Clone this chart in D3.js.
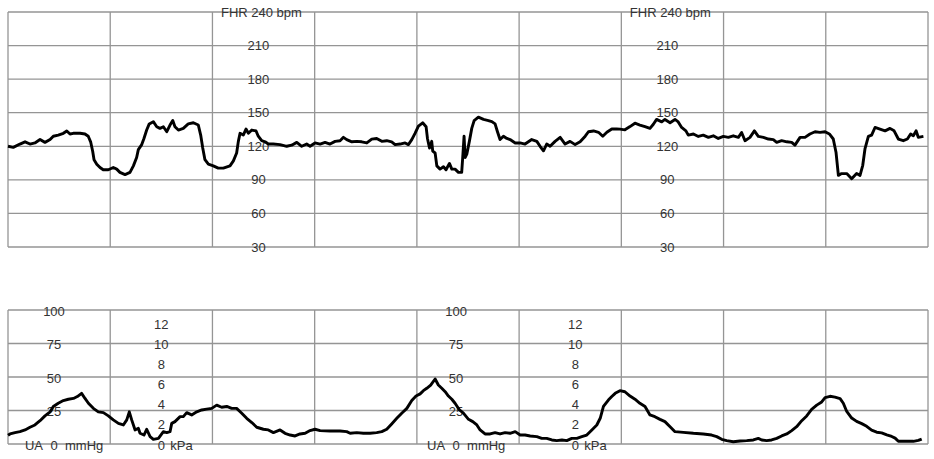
<!DOCTYPE html>
<html>
<head>
<meta charset="utf-8">
<script src="https://cdn.jsdelivr.net/npm/d3@7"></script>
<style>
  html, body { margin: 0; padding: 0; background: #fff; }
  svg { display: block; }
  text { font-family: "Liberation Sans", Arial, sans-serif; font-size: 13px; fill: #333; }
</style>
</head>
<body>
<svg id="chart" width="934" height="459"></svg>
<script>
// ---------------- DATA ----------------
// time in seconds (one grid division = 60 s)
const fhrTime = [0,3.1,7.0,10,12.9,15.8,18.8,21.7,24.7,26.6,29.5,32.5,34.5,36.4,38.3,42.3,45.2,47.1,48.5,49.7,50.5,52.1,54,55.9,58.9,61.8,63.8,65.7,68.7,71.6,73.6,75.5,76.5,78.5,79.8,81.4,82.9,85.3,87.3,89.2,91.2,93.2,95.1,96.7,98,100,102.9,105.8,108.8,111.7,113.1,114.3,115.6,117.6,120.5,123.4,126.4,130.3,132.3,134.2,135.2,136.2,138.1,139.7,141.1,143.1,145.6,146.9,148.9,150.9,152.8,155.7,159.7,163.6,166.5,169.5,172.4,175.3,
177.3,180.2,183.2,186.1,189.0,192.0,194.9,196.9,198.8,201.8,204.7,207.6,210.6,213.5,216.4,219.4,222.3,225.2,227.2,230.1,233.1,235.0,237.0,238.9,240.9,243.4,245.4,246.2,247.4,248.7,249.3,250.7,251.7,253.6,255.6,257.1,259.1,260.5,262.4,264.4,266.3,266.9,267.7,268.3,269.3,270.8,272.2,273.6,276.1,279.1,282.0,284.0,285.9,287.3,288.8,290.8,292.8,294.7,297.7,300.6,303.5,307.4,310.4,312.3,314.3,316.2,318.2,321.1,324.1,327.0,329.9,332.9,335.8,338.8,340.7,343.7,346.6,349.1,351.5,354.4,357.3,
359.2,362.1,365.1,368.0,370.9,373.9,376.8,378.8,380.7,383.7,385.6,388.6,391.5,393.4,395.4,397.9,399.3,402.3,405.2,408.1,411.1,414.0,416.9,419.9,422.8,425.7,428.7,430.6,432.6,435.5,438.1,440.4,443.4,446.3,449.2,451.2,454.1,457.1,460.0,461.9,464.9,467.8,470.7,473.7,476.6,479.6,482.1,484.4,486.0,486.8,487.4,489.3,492.3,495.2,498.1,500.1,501.7,503.0,505.0,506.9,508.9,511.8,514.8,517.7,520.1,522.6,525.5,527.9,529.8,531.4,533.0,534.3,537.3];
const fhrBpm = [120,119,122,124,122,123,126,123.5,126,129,130,131.6,133.7,131,131.6,131.6,131,129,124,115.6,108,104,101,99,99,101,99.6,96.7,94.7,96.7,102.5,110,117,121.5,127,134.5,140,142,137.5,136,137.5,133,139,143,137.5,134.5,136,140,141,139,130,118.5,108,104,102.5,100.5,100.5,102.5,107,114,124.4,131.6,130,135.4,131.6,134.5,133.7,129,125,124,122,122,121.5,120,121,123.5,120,122,
120,123,122,123.5,122,124.4,125,128,126,124,124.4,124,123,126.4,127,124.4,125,124,121.5,122,123,121.5,126,131.6,138,141,137.5,127,118.5,124.4,115.6,114,102.5,99.6,101.7,99,104.7,99.6,99.6,96.7,96.7,110,129,110,113,124.4,136,143,146,144,143,142,140,133,126,129,127,126,123,123,122,126,124.4,120,116,122,120,124.4,128,122,124.4,121.5,124,129,133,133.7,132.5,129,132.5,135.4,135.4,
135.3,134.7,137.6,140.6,139,137.6,136,139.7,144,141.8,144,141,144,141.8,136.8,133.8,130,131,128.8,130,128,129.4,127,128.8,128,129.4,128,132.3,125,128,133.8,128.8,128,126.5,126,123.5,125,124,123.5,121,128,128,131,133,132.4,133,131,126.5,114.7,103,94,95.6,95.6,91,95.6,94,103,117.6,128.8,130,136.8,135.3,133.8,136,133.8,126.5,125,126.5,131,129.4,133.8,128,128.8];

const uaTime = [0,1.2,4.1,7.0,10.0,12.9,15.8,18.8,21.7,24.7,26.6,29.5,32.5,35.4,38.4,40.7,43.2,45.2,47.2,50.1,53.0,56.0,58.9,61.8,64.8,67.7,69.7,71.2,72.6,74.6,76.5,77.5,79.8,81.4,83.4,85.3,88.3,91.2,93.2,95.1,96.1,98.0,101.0,102.9,104.9,107.8,110.8,113.7,116.6,119.6,122.5,125.4,128.4,131.3,134.2,137.2,140.1,143.1,146.0,149.9,152.8,155.8,159.7,162.6,165.6,168.5,171.4,174.4,
177.3,180.2,183.2,189.0,194.9,198.8,200.8,204.7,208.6,212.5,216.4,219.4,222.3,225.2,228.2,231.1,234.1,237.0,239.5,241.9,243.8,245.8,248.1,250.7,252.6,254.6,256.6,258.5,260.5,262.4,265.0,267.3,270.3,272.8,275.2,277.1,280.0,283.0,285.9,288.8,291.8,294.7,297.7,300.6,303.5,306.5,310.4,313.3,316.2,319.2,322.1,325.1,328.0,330.9,333.9,336.8,339.7,342.7,345.6,347.6,349.5,352.5,354.4,356.4,
359.2,362.1,365.1,368.0,370.9,373.9,376.8,379.7,382.7,385.6,388.6,391.5,396.4,402.3,408.1,413.0,416.0,418.9,421.8,425.7,429.7,433.6,437.5,440.4,442.4,445.3,448.2,451.2,454.1,457.1,460.0,462.9,465.9,468.8,471.7,474.7,477.6,479.6,482.5,485.4,488.4,490.3,492.3,495.2,498.1,501.1,504.0,506.9,509.9,512.8,515.8,518.7,520.7,522.6,527.5,531.4,534.3,536.3];
const uaMmHg = [6.5,7.5,8.5,9.2,10.5,12.5,14.2,17.4,21,24,28,30.4,32.4,33.4,34,35.4,37.8,34,30.4,26.6,24,23.4,21,18,15.4,14.2,18,24,18,10.5,11.7,8,6.7,11,5.5,3.5,4.2,9.2,8.5,9.2,15.4,16.7,20.4,20.4,23.4,21.7,24,25.4,26,26.6,29,27.4,28,26.6,26.6,23,19.2,16,12.5,11,10.5,8.5,10.5,8,6.7,6,7.5,8,
10,11,10,9.7,9.7,9.2,8,8.5,8,8,8.5,9.2,11,15,19.2,23,26.6,32.4,35.8,37.4,39.8,41.6,44,48.5,44,41.6,39,35.8,33.4,30.4,25.4,23,18.4,16.7,14.2,10.5,7.5,7.5,8.5,7.5,8.5,8,9.2,6.7,6.7,6,5.5,4.2,4.2,3,2.5,3,2.5,4.2,4.2,5.5,6.7,10.5,14.2,19.2,28,33,35.4,37.8,
39.8,39,35.8,33.4,30.4,28,21.7,20.4,18.4,16.7,12.9,9.2,8.7,8,7.5,6.7,5.5,3.5,2.5,1.7,2.2,2.5,3,4.2,3,2.5,3,4.2,6,7.5,10,12.9,17.4,20.9,25.8,29,31.4,34.6,35.6,35,33.9,30.4,24.3,19.4,16.9,15.2,13.2,10.3,8.8,8.3,6.8,5.6,4.4,2,2,2,2.7,3.7];

const fhrTicks = [30, 60, 90, 120, 150, 180, 210, 240];
const uaTicks = [0, 25, 50, 75, 100];
const kpaTicks = [0, 2, 4, 6, 8, 10, 12];
const timeTicks = [0, 60, 120, 180, 240, 300, 360, 420, 480, 540];

// ---------------- LAYOUT ----------------
const svg = d3.select("#chart");
const x = d3.scaleLinear().domain([0, 540]).range([8, 928]);
const yF = d3.scaleLinear().domain([30, 240]).range([247, 12]);
const yU = d3.scaleLinear().domain([0, 100]).range([444, 310]);
const kpaToMmHg = 7.5;

const gridColor = "#959595";
const gridW = 1.3;

function drawGrid(y, ticks) {
  const g = svg.append("g");
  g.selectAll("line.h").data(ticks).join("line")
    .attr("x1", x(0)).attr("x2", x(540))
    .attr("y1", d => y(d)).attr("y2", d => y(d))
    .attr("stroke", gridColor).attr("stroke-width", gridW);
  const [lo, hi] = [ticks[0], ticks[ticks.length - 1]];
  g.selectAll("line.v").data(timeTicks).join("line")
    .attr("x1", d => x(d)).attr("x2", d => x(d))
    .attr("y1", y(lo)).attr("y2", y(hi))
    .attr("stroke", gridColor).attr("stroke-width", gridW);
}
drawGrid(yF, fhrTicks);
drawGrid(yU, uaTicks);

// FHR labels
[147, 387].forEach(t0 => {
  svg.append("g").selectAll("text").data(fhrTicks).join("text")
    .attr("x", d => x(t0) + (d === 240 ? 3 : 0))
    .attr("y", d => yF(d))
    .attr("dy", "0.35em")
    .attr("text-anchor", "middle")
    .text(d => d === 240 ? "FHR 240 bpm" : d);
});

// UA mmHg labels
[27, 263].forEach(t0 => {
  const g = svg.append("g");
  g.selectAll("text").data(uaTicks).join("text")
    .attr("x", x(t0))
    .attr("y", d => yU(d) + 1)
    .attr("dy", "0.35em")
    .attr("text-anchor", "middle")
    .text(d => d);
  g.append("text").attr("x", x(t0) - 11).attr("y", yU(0) + 1).attr("dy", "0.35em")
    .attr("text-anchor", "end").text("UA");
  g.append("text").attr("x", x(t0) + 11).attr("y", yU(0) + 1).attr("dy", "0.35em")
    .attr("text-anchor", "start").text("mmHg");
});

// kPa labels
[90, 333].forEach(t0 => {
  const g = svg.append("g");
  g.selectAll("text").data(kpaTicks).join("text")
    .attr("x", x(t0))
    .attr("y", d => yU(d * kpaToMmHg) + 1)
    .attr("dy", "0.35em")
    .attr("text-anchor", "middle")
    .text(d => d);
  g.append("text").attr("x", x(t0) + 9).attr("y", yU(0) + 1).attr("dy", "0.35em")
    .attr("text-anchor", "start").text("kPa");
});

// Traces
const fhrData = fhrTime.map((t, i) => [t, fhrBpm[i]]);
const uaData = uaTime.map((t, i) => [t, uaMmHg[i]]);

svg.append("path").datum(fhrData)
  .attr("fill", "none").attr("stroke", "#000").attr("stroke-width", 2.9)
  .attr("stroke-linejoin", "round")
  .attr("d", d3.line().x(d => x(d[0])).y(d => yF(d[1])));

svg.append("path").datum(uaData)
  .attr("fill", "none").attr("stroke", "#000").attr("stroke-width", 2.9)
  .attr("stroke-linejoin", "round")
  .attr("d", d3.line().x(d => x(d[0])).y(d => yU(d[1])));
</script>
</body>
</html>
